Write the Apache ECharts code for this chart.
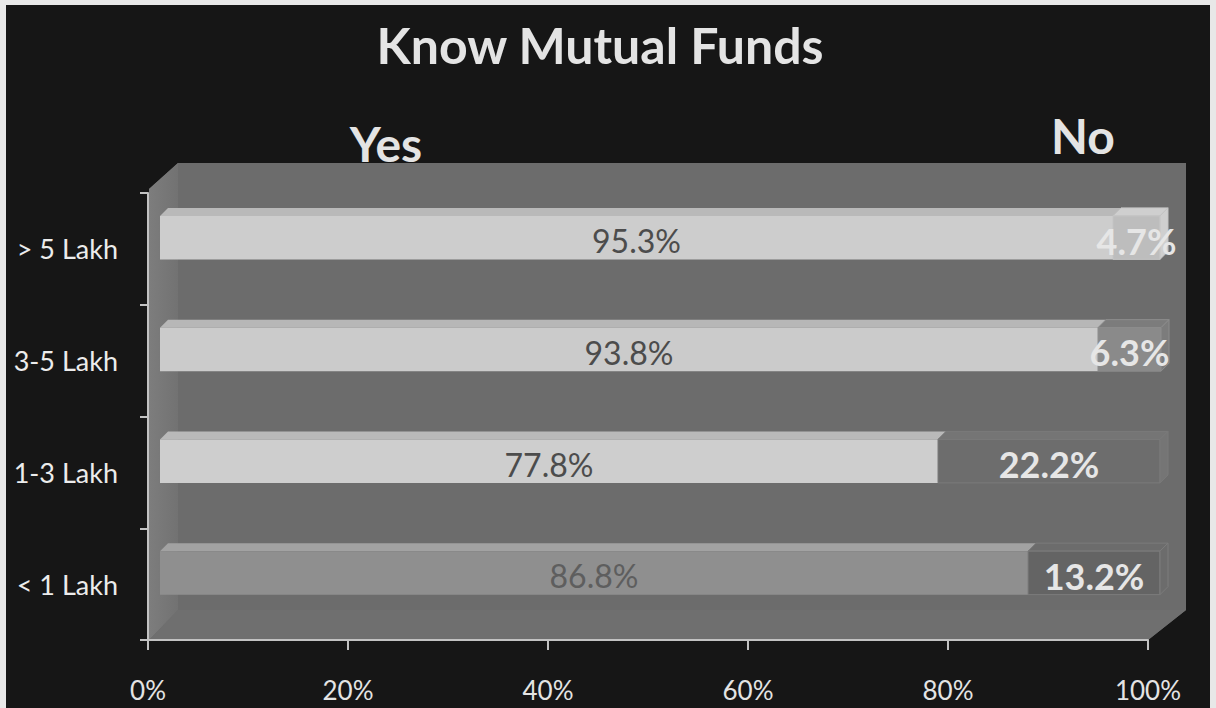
<!DOCTYPE html>
<html>
<head>
<meta charset="utf-8">
<title>Know Mutual Funds</title>
<script src="https://cdn.jsdelivr.net/npm/echarts@6/dist/echarts.min.js"></script>
<style>
  html, body { margin: 0; padding: 0; background: #e8e8e8; width: 1216px; height: 708px; overflow: hidden; }
  #chart { position: absolute; left: 6px; top: 5px; width: 1204px; height: 703px; background: #161616; }
</style>
</head>
<body>
<div id="chart"></div>
<script>
// Income groups (top to bottom) and the share answering Yes / No
const categories = ['> 5 Lakh', '3-5 Lakh', '1-3 Lakh', '< 1 Lakh'];
const yesValues = [95.3, 93.8, 77.8, 86.8];
const noValues = [4.7, 6.3, 22.2, 13.2];
const xTickValues = [0, 20, 40, 60, 80, 100];

// Per-bar shading (front face, top face, label colour)
const yesFront = ['#cdcdcd', '#cbcbcb', '#cecece', '#8f8f8f'];
const yesTop = ['#b9b9b9', '#b7b7b7', '#b9b9b9', '#a2a2a2'];
const yesLabel = ['#4c4c4c', '#4c4c4c', '#4c4c4c', '#5e5e5e'];
const noFront = ['#bdbdbd', '#8a8a8a', '#6d6d6d', '#646464'];
const noTop = ['#cfcfcf', '#7c7c7c', '#757575', '#6c6c6c'];
const noStroke = ['#c4c4c4', '#8d8d8d', '#7a7a7a', '#7c7c7c'];

const GRID = { left: 142, top: 188, right: 62, bottom: 68 };
const W = 1204, H = 703;
const BAR_SHIFT = 12;     // bars sit a little behind the front plane
const BAR_DEPTH = 8;      // depth of the top / side faces
const WALL_DX = 30, WALL_DX_R = 38, WALL_DY = 30;

function bar3d(front, top, labelColor, labelFont, stroke, showSide) {
  return function (params, api) {
    const i = api.value(0);
    const p0 = api.coord([api.value(1), i]);
    const p1 = api.coord([api.value(2), i]);
    const x0 = p0[0] + BAR_SHIFT, x1 = p1[0] + BAR_SHIFT;
    const cy = p0[1];
    const fTop = cy - 33, fBot = cy + 10.5;
    const d = BAR_DEPTH;
    const children = [
      {
        type: 'polygon',
        shape: { points: [[x0, fTop], [x0 + d, fTop - d], [x1 + d, fTop - d], [x1, fTop]] },
        style: { fill: top[i], stroke: stroke ? stroke[i] : null, lineWidth: 1 }
      },
      {
        type: 'rect',
        shape: { x: x0, y: fTop, width: x1 - x0, height: fBot - fTop },
        style: { fill: front[i], stroke: stroke ? stroke[i] : null, lineWidth: 1 }
      }
    ];
    if (showSide) {
      children.push({
        type: 'polygon',
        shape: { points: [[x1, fTop], [x1 + d, fTop - d], [x1 + d, fBot - d], [x1, fBot]] },
        style: { fill: top[i], stroke: stroke ? stroke[i] : null, lineWidth: 1 }
      });
    }
    children.push({
      type: 'text',
      x: (x0 + x1) / 2,
      y: (fTop + fBot) / 2 + 3,
      style: {
        text: api.value(2) - api.value(1) > 0 ? (api.value(2) - api.value(1)).toFixed(1) + '%' : '',
        fill: labelColor[i],
        font: labelFont,
        align: 'center',
        verticalAlign: 'middle'
      }
    });
    return { type: 'group', children: children };
  };
}

const yesData = yesValues.map((v, i) => [i, 0, v]);
const noData = noValues.map((v, i) => [i, yesValues[i], yesValues[i] + v]);

// Chart wall, side wall and floor behind the bars
const gx0 = GRID.left, gy0 = GRID.top, gx1 = W - GRID.right, gy1 = H - GRID.bottom;
const wallGraphics = [
  {
    type: 'polygon', z: -10,
    shape: { points: [[gx0 + 1, gy0 - 4], [gx0 + WALL_DX, gy0 - WALL_DY], [gx1 + WALL_DX_R, gy0 - WALL_DY],
                      [gx1 + WALL_DX_R, gy1 - WALL_DY], [gx1, gy1], [gx0 + 1, gy1]] },
    style: { fill: '#6c6c6c' }
  },
  {
    type: 'polygon', z: -9,
    shape: { points: [[gx0 + 1, gy0 - 4], [gx0 + WALL_DX, gy0 - WALL_DY], [gx0 + WALL_DX, gy1 - WALL_DY], [gx0 + 1, gy1]] },
    style: { fill: new echarts.graphic.LinearGradient(0, 0, 1, 0, [
      { offset: 0, color: '#7d7d7d' }, { offset: 1, color: '#727272' }]) }
  },
  {
    type: 'polygon', z: -9,
    shape: { points: [[gx0 + 1, gy1], [gx0 + WALL_DX, gy1 - WALL_DY], [gx1 + WALL_DX_R, gy1 - WALL_DY], [gx1, gy1]] },
    style: { fill: '#6f6f6f' }
  },
  {
    type: 'text', z: 10, x: 600 - 6, y: 40,
    style: { text: 'Know Mutual Funds', fill: '#e4e4e4', font: 'bold 50px Lato', align: 'center', verticalAlign: 'middle' }
  },
  {
    type: 'text', z: 10, x: 386 - 6, y: 138,
    style: { text: 'Yes', fill: '#e4e4e4', font: 'bold 48px Lato', align: 'center', verticalAlign: 'middle' }
  },
  {
    type: 'text', z: 10, x: 1083 - 6, y: 130,
    style: { text: 'No', fill: '#e4e4e4', font: 'bold 48px Lato', align: 'center', verticalAlign: 'middle' }
  }
];

const chart = echarts.init(document.getElementById('chart'), null, { renderer: 'svg' });
chart.setOption({
  animation: false,
  backgroundColor: 'transparent',
  grid: { left: GRID.left, top: GRID.top, right: GRID.right, bottom: GRID.bottom, containLabel: false },
  xAxis: {
    type: 'value',
    min: xTickValues[0],
    max: xTickValues[xTickValues.length - 1],
    interval: xTickValues[1] - xTickValues[0],
    axisLine: { show: true, lineStyle: { color: '#c2c2c2', width: 2 } },
    axisTick: { show: true, length: 10, lineStyle: { color: '#c2c2c2', width: 2 } },
    splitLine: { show: false },
    axisLabel: { formatter: '{value}%', color: '#e4e4e4', fontFamily: 'Lato', fontSize: 26, margin: 37 }
  },
  yAxis: {
    type: 'category',
    data: categories,
    inverse: true,
    axisLine: { show: true, lineStyle: { color: '#c2c2c2', width: 2 } },
    axisTick: { show: true, length: 8, lineStyle: { color: '#c2c2c2', width: 2 } },
    axisLabel: { color: '#ececec', fontFamily: 'Lato', fontSize: 27, margin: 30 }
  },
  graphic: wallGraphics,
  series: [
    {
      name: 'Yes', type: 'custom', z: 3,
      renderItem: bar3d(yesFront, yesTop, yesLabel, '32px Lato', null, false),
      encode: { x: [1, 2], y: 0 },
      data: yesData
    },
    {
      name: 'No', type: 'custom', z: 3,
      renderItem: bar3d(noFront, noTop, ['#e6e6e6', '#e6e6e6', '#e6e6e6', '#e6e6e6'], 'bold 36px Lato', noStroke, true),
      encode: { x: [1, 2], y: 0 },
      data: noData
    }
  ]
});
</script>
</body>
</html>
